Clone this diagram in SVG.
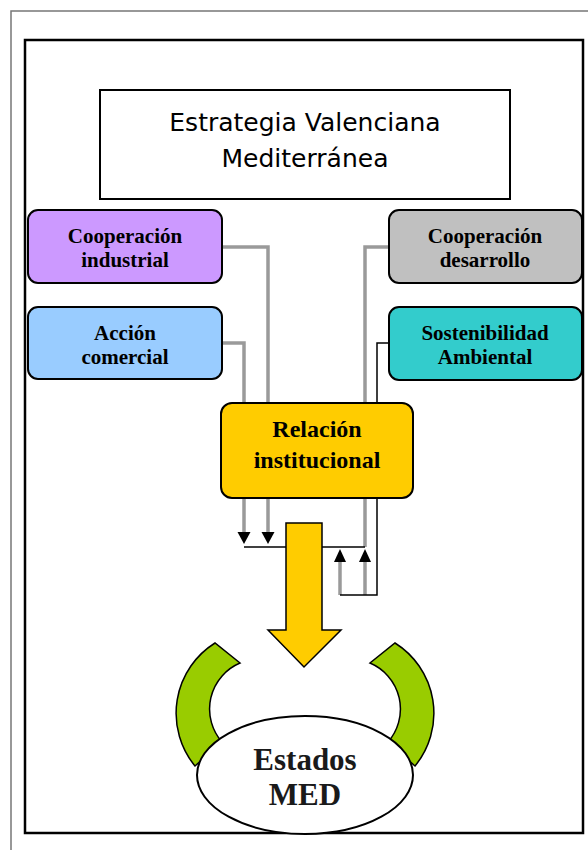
<svg xmlns="http://www.w3.org/2000/svg" width="588" height="850" viewBox="0 0 588 850">
<defs>
<style>
.node{stroke:#000;stroke-width:2}
.lbl{font-family:"Liberation Serif","Times New Roman",serif;font-weight:bold;font-size:21px;text-anchor:middle;fill:#000}
.ttl{font-family:"DejaVu Sans",sans-serif;font-size:25px;text-anchor:middle;fill:#000}
.big{font-family:"Liberation Serif","Times New Roman",serif;font-weight:bold;font-size:31px;text-anchor:middle;fill:#1a1a1a}
.gray{fill:none;stroke:#9a9a9a;stroke-width:3.5}
.blk{fill:none;stroke:#000;stroke-width:1.5}
.tri{fill:#000}
.green{fill:#99CC00;stroke:#000;stroke-width:1.5}
</style>
</defs>
<rect width="588" height="850" fill="#fff"/>
<path d="M11,850 V11 H588" fill="none" stroke="#777" stroke-width="1.5"/>
<rect x="25" y="40" width="558" height="793" fill="#fff" stroke="#000" stroke-width="2.5"/>

<g id="title">
<rect x="100" y="90" width="410" height="109" fill="#fff" stroke="#000" stroke-width="2"/>
<text class="ttl" x="305" y="131">Estrategia Valenciana</text>
<text class="ttl" x="305" y="167">Mediterránea</text>
</g>

<g id="connectors">
<path class="gray" d="M222,247 H268 V532"/>
<path class="gray" d="M222,343 H244 V532"/>
<polygon class="tri" points="237.5,532 250.5,532 244,544"/>
<polygon class="tri" points="261.5,532 274.5,532 268,544"/>
<path class="blk" d="M244,547 H287"/>
<path class="gray" d="M390,247 H365 V547"/>
<path class="gray" d="M365,562 V595"/>
<path class="gray" d="M340,562 V595"/>
<polygon class="tri" points="334,562 346,562 340,549"/>
<polygon class="tri" points="359,562 371,562 365,549"/>
<path class="blk" d="M321,547 H365"/>
<path class="blk" d="M390,343 H377 V595 H340"/>
</g>

<g id="coop-industrial">
<rect class="node" x="28" y="210" width="194" height="73" rx="10" fill="#CC99FF"/>
<text class="lbl" x="125" y="243">Cooperación</text>
<text class="lbl" x="125" y="267">industrial</text>
</g>
<g id="accion-comercial">
<rect class="node" x="28" y="307" width="194" height="72" rx="10" fill="#99CCFF"/>
<text class="lbl" x="125" y="340">Acción</text>
<text class="lbl" x="125" y="364">comercial</text>
</g>
<g id="coop-desarrollo">
<rect class="node" x="389" y="210" width="193" height="73" rx="10" fill="#C0C0C0"/>
<text class="lbl" x="485" y="243">Cooperación</text>
<text class="lbl" x="485" y="267">desarrollo</text>
</g>
<g id="sostenibilidad">
<rect class="node" x="389" y="307" width="193" height="73" rx="10" fill="#33CCCC"/>
<text class="lbl" x="485" y="340">Sostenibilidad</text>
<text class="lbl" x="485" y="364">Ambiental</text>
</g>
<g id="relacion">
<rect class="node" x="221" y="403" width="192" height="95" rx="11" fill="#FFCC00"/>
<text class="lbl" x="317" y="437" style="font-size:24px">Relación</text>
<text class="lbl" x="317" y="468" style="font-size:24px">institucional</text>
</g>

<g id="big-arrow">
<polygon points="286,523 322,523 322,630 341,630 304,667 268,630 286,630" fill="#FFCC00" stroke="#000" stroke-width="1.5"/>
</g>

<g id="green-arcs">
<path class="green" d="M215,643 A83,83 0 0 0 195,766 L222,742 A50,50 0 0 1 240,663 Z"/>
<path class="green" d="M395,643 A83,83 0 0 1 415,766 L388,742 A50,50 0 0 0 370,663 Z"/>
</g>

<g id="estados">
<ellipse cx="305" cy="775" rx="108" ry="59" fill="#fff" stroke="#000" stroke-width="2"/>
<text class="big" x="305" y="770">Estados</text>
<text class="big" x="305" y="805">MED</text>
</g>
</svg>
